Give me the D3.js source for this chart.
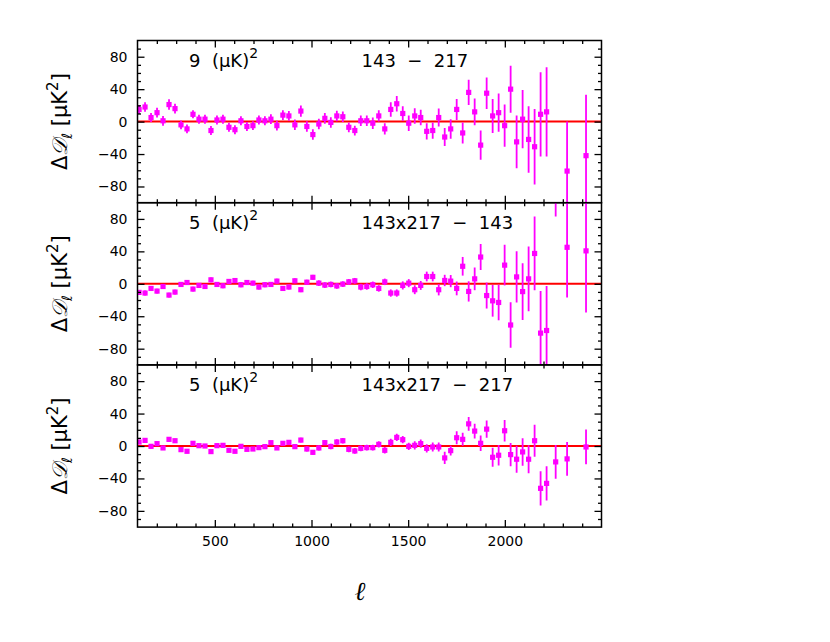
<!DOCTYPE html>
<html><head><meta charset="utf-8">
<script src="https://cdn.jsdelivr.net/npm/d3@7"></script>
<style>body{margin:0;background:#fff}svg{display:block}</style>
</head><body><svg id="c" width="830" height="642"></svg>
<script>
// multipole bin centres
const ell = [108,139,170,201,232,263,294,325,356,387,418,449,480,511,542,573,604,635,666,697,
  728,759,790,821,852,883,914,945,976,1007,1038,1069,1100,1131,1162,1193,1224,1255,1286,1317,
  1348,1379,1410,1441,1472,1503,1534,1565,1596,1627,1658,1689,1720,1751,1782,1813,1844,1875,1906,1937,
  1968,1999,2030,2061,2092,2123,2154,2185,2216,2263,2322,2420];

// panel 1 : 143 - 217
const diffA = [15,18,5,11,1,21,16,-4,-9,9,3,3,-11,2,3,-7,-10,1,-6,-5,
  2,1,3,-5,8,7,-4,13,-6,-16,-3,4,-1,7,6,-7,-11,1,1,-2,
  7,-9,15,22,10,-2,7,5,-12,-11,5,-19,-9,15,-14,36,12,-29,35,7,
  11,-5,40,-25,3,-22,-31,9,12,null,-61,-42];
const errA = [5.5,6,5.5,6,6,6.5,6,5.5,5.5,5,5.5,5.5,5.5,5.5,5.5,5.5,5.5,5.5,5.5,5.5,
  5.5,5.5,6,6,6,6,6.5,7,6.5,6.5,6.5,6.5,6.5,6.5,6.5,6,6,6.5,6.5,7,
  7,7,9,9.5,9,9.5,9.5,9.5,10,10,11,11,12,13,13,15.5,16.5,18,19.5,21,
  23.5,26,29,32.5,36,41,46.5,52,55,58,61,75];

// panel 2 : 143x217 - 143
const diffB = [-10.6,-11.4,-5.7,-9,-3.3,-13.9,-10.2,-0.8,1.6,-6.5,-2,-3.3,4.9,-0.8,-2.4,2.9,4,-1.2,1.6,0.8,
  -4,-1.2,-0.8,3.3,-5.7,-4,3.7,-7.3,2,8,0.8,-1.6,-0.8,-2.6,-0.4,2.4,3.7,-4,-3.3,-1.2,
  -5.7,2.4,-11.4,-11.4,-2,0.8,-7.3,-2,9,9,-7.3,4.1,3.3,-5.7,21.6,-9.4,6.1,33,-14.5,-21,
  -23,23,-50.8,8.5,-9.6,6.1,37.4,-60.8,-57.6,141,45,40.6];
const errB = [3,3,3,3,3,3,3,3,3,3,3,3,3,3,3,3,3,3,3,3,
  3,3,3,3,3,3,3,3,3,3,3.5,3.5,3.5,3.5,3.5,3.5,3.5,4,4,4,
  4,4,4.5,4.5,5,5,5.5,5.5,6,6,7,7,7.5,8.5,11.5,12.5,14,16,16,19.5,
  22,25,28,31.5,35,40,45.5,52,55,58,62,76];

// panel 3 : 143x217 - 217
const diffC = [4.9,6.9,-0.4,2.9,-2.4,8.2,6.5,-4.5,-6.5,3.3,0.4,0,-6.9,0.4,0.8,-5.3,-6.5,-0.4,-4.1,-3.7,
  -2,-0.8,4.1,-2.4,3.3,4.5,-0.8,7.3,-3.7,-7.8,-2.4,4.1,-0.6,4.9,6.5,-4.1,-6.1,-2.9,-2,-2,
  2,-5.3,4.5,10.6,7.8,-0.4,0.8,2.9,-2.9,-1.2,-1.2,-14.7,-5.7,10.2,8.2,27.3,18.4,3.3,20.8,-13.9,
  -11.4,18.8,-10.6,-16.3,-7.3,-16.3,6.5,-52.2,-46.1,-19.6,-15.9,-1.2];
const errC = [2.5,2.5,2.5,2.5,2.5,2.5,2.5,2.5,2.5,2.5,2.5,2.5,2.5,2.5,2.5,2.5,2.5,2.5,2.5,2.5,
  2.5,2.5,2.5,2.5,2.5,2.5,3,3,3,3,3,3,3.5,3.5,3.5,3.5,3.5,3.5,3.5,3.5,
  4,4,4.5,4.5,4.5,4.5,5,5,5,5.5,5.5,7.5,6,8,8,8.6,9,9.5,10.6,11.8,
  12.5,13.3,14.3,16.7,17,17.3,19.8,21.2,21.2,20.8,20.8,21.4];

const panelNorm = ["9", "5", "5"];
const panelTitles = ["143  \u2212  217", "143x217  \u2212  143", "143x217  \u2212  217"];
const yMajor = [-80, -40, 0, 40, 80];
const yMinor = [-90,-70,-60,-50,-30,-20,-10,10,20,30,50,60,70,90];
const xMajor = [500, 1000, 1500, 2000];
const xMinor = [200,300,400,600,700,800,900,1100,1200,1300,1400,1600,1700,1800,1900,2100,2200,2300,2400];

const panels = [
  {diff: diffA, err: errA, norm: panelNorm[0], title: panelTitles[0]},
  {diff: diffB, err: errB, norm: panelNorm[1], title: panelTitles[1]},
  {diff: diffC, err: errC, norm: panelNorm[2], title: panelTitles[2]}
];

const svg = d3.select("#c");
svg.append("rect").attr("width",830).attr("height",642).attr("fill","#fff");
const L = 137.5, R = 601.5, T = 40.5, H = 162.2;
const FONT = "'DejaVu Sans', sans-serif";
const x = d3.scaleLinear().domain([100, 2500]).range([L, R]);
const defs = svg.append("defs");

function styleAxis(g){
  g.select(".domain").remove();
  g.selectAll(".tick line").attr("stroke","#000").attr("stroke-width",1.3);
  g.selectAll("text").attr("font-family",FONT).attr("font-size",14).attr("fill","#000");
}

panels.forEach((p, i) => {
  const top = T + i * H, bot = top + H;
  const y = d3.scaleLinear().domain([-100, 100]).range([bot, top]);
  defs.append("clipPath").attr("id","clip"+i).append("rect")
    .attr("x",L).attr("y",top).attr("width",R-L).attr("height",H);
  const pts = ell.map((l, j) => ({l, v: p.diff[j], e: p.err[j]})).filter(d => d.v !== null);
  const g = svg.append("g").attr("clip-path","url(#clip"+i+")");
  g.append("line").attr("x1",L).attr("x2",R).attr("y1",y(0)).attr("y2",y(0))
    .attr("stroke","#ff0000").attr("stroke-width",2);
  g.selectAll("line.eb").data(pts).join("line").attr("class","eb")
    .attr("x1",d=>x(d.l)).attr("x2",d=>x(d.l))
    .attr("y1",d=>y(d.v - d.e)).attr("y2",d=>y(d.v + d.e))
    .attr("stroke","#ff00ff").attr("stroke-width",1.8);
  g.selectAll("rect.pt").data(pts).join("rect").attr("class","pt")
    .attr("x",d=>x(d.l)-2.6).attr("y",d=>y(d.v)-2.6).attr("width",5.2).attr("height",5.2)
    .attr("fill","#ff00ff");

  // axes (ticks inward on all four sides)
  const ax = svg.append("g");
  ax.append("g").attr("transform",`translate(${L},0)`)
    .call(d3.axisLeft(y).tickValues(yMajor).tickSize(-7).tickPadding(10)).call(styleAxis);
  ax.append("g").attr("transform",`translate(${L},0)`)
    .call(d3.axisLeft(y).tickValues(yMinor).tickSize(-3.5).tickFormat("")).call(styleAxis);
  ax.append("g").attr("transform",`translate(${R},0)`)
    .call(d3.axisRight(y).tickValues(yMajor).tickSize(-7).tickFormat("")).call(styleAxis);
  ax.append("g").attr("transform",`translate(${R},0)`)
    .call(d3.axisRight(y).tickValues(yMinor).tickSize(-3.5).tickFormat("")).call(styleAxis);
  ax.append("g").attr("transform",`translate(0,${top})`)
    .call(d3.axisTop(x).tickValues(xMajor).tickSize(-7).tickFormat("")).call(styleAxis);
  ax.append("g").attr("transform",`translate(0,${top})`)
    .call(d3.axisTop(x).tickValues(xMinor).tickSize(-3.5).tickFormat("")).call(styleAxis);
  const isLast = i === panels.length - 1;
  ax.append("g").attr("transform",`translate(0,${bot})`)
    .call(d3.axisBottom(x).tickValues(xMajor).tickSize(-7).tickPadding(8.5)
      .tickFormat(isLast ? d3.format("d") : "")).call(styleAxis);
  ax.append("g").attr("transform",`translate(0,${bot})`)
    .call(d3.axisBottom(x).tickValues(xMinor).tickSize(-3.5).tickFormat("")).call(styleAxis);
  ax.append("rect").attr("x",L).attr("y",top).attr("width",R-L).attr("height",H)
    .attr("fill","none").attr("stroke","#000").attr("stroke-width",1.5);

  // normalisation label
  const t1 = svg.append("text").attr("x",189).attr("y",top+26)
    .attr("font-family",FONT).attr("font-size",18).attr("fill","#000")
    .attr("xml:space","preserve").style("white-space","pre");
  t1.append("tspan").text(p.norm + "  (\u03bcK)");
  t1.append("tspan").attr("dy",-9).attr("font-size",14).text("2");
  svg.append("text").attr("x",361.5).attr("y",top+26)
    .attr("font-family",FONT).attr("font-size",18).attr("fill","#000")
    .style("white-space","pre").text(p.title);

  // y label
  const yl = svg.append("text")
    .attr("transform",`translate(67,${(top+bot)/2}) rotate(-90)`)
    .attr("text-anchor","middle").attr("font-family",FONT).attr("font-size",21).attr("fill","#000")
    .style("white-space","pre");
  yl.append("tspan").text("\u0394");
  yl.append("tspan").attr("font-family","'DejaVu Serif', serif").attr("font-style","italic").text("\ud835\udc9f");
  yl.append("tspan").attr("font-size",14).attr("dy",5).attr("font-style","italic").text("\u2113");
  yl.append("tspan").attr("dy",-5).text(" [\u03bcK");
  yl.append("tspan").attr("font-size",15).attr("dy",-9).text("2");
  yl.append("tspan").attr("dy",9).text("]");
});

svg.append("text").attr("x",360).attr("y",600).attr("text-anchor","middle")
  .attr("font-family","'DejaVu Serif', serif").attr("font-style","italic").attr("font-size",26)
  .attr("fill","#000").text("\u2113");
</script></body></html>
